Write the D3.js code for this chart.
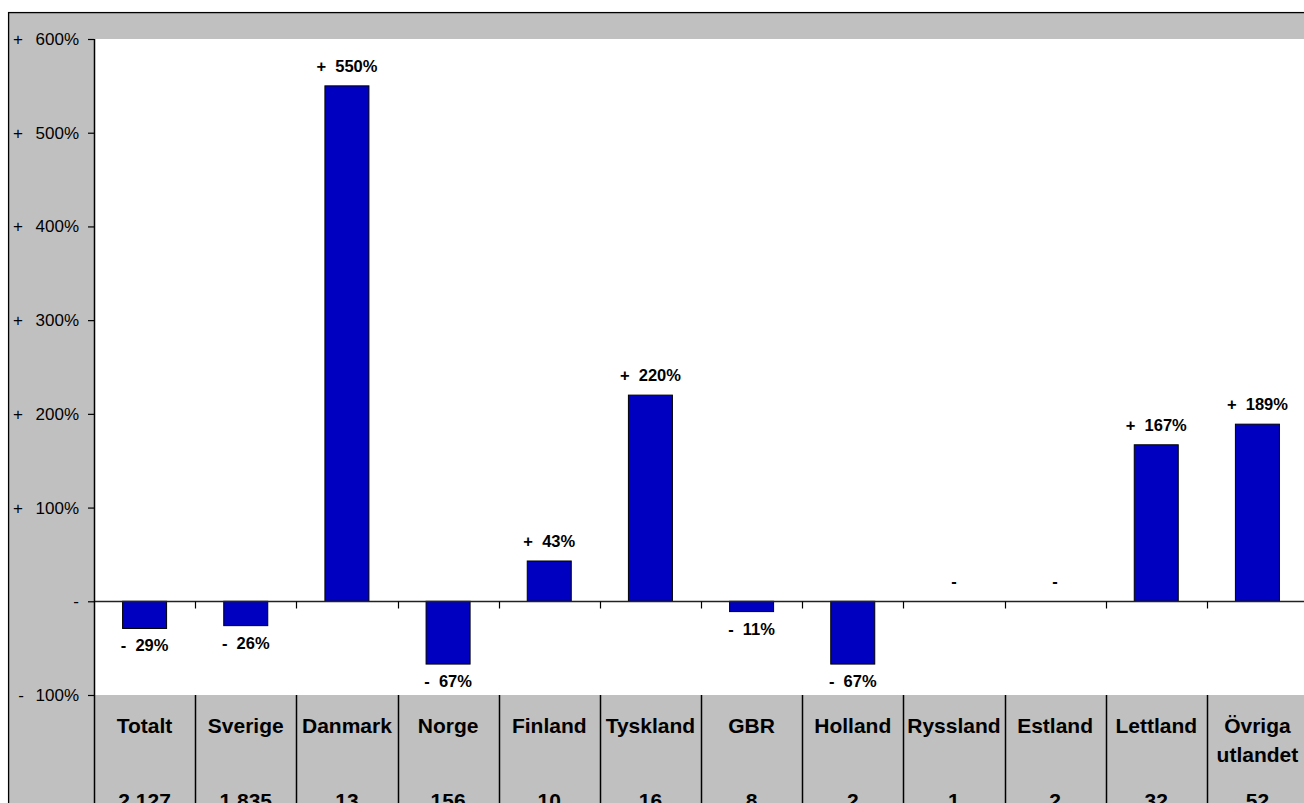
<!DOCTYPE html>
<html><head><meta charset="utf-8">
<script src="https://cdn.jsdelivr.net/npm/d3@7"></script>
<style>
html,body{margin:0;padding:0;background:#fff;}
svg{display:block;font-family:"Liberation Sans",Arial,sans-serif;}
</style></head>
<body>
<svg id="chart" width="1304" height="803"></svg>
<script>
const categories = ["Totalt","Sverige","Danmark","Norge","Finland","Tyskland","GBR","Holland","Ryssland","Estland","Lettland","Övriga utlandet"];
const changePct = [-29,-26,550,-67,43,220,-11,-67,0,0,167,189];
const counts = ["2 127","1 835","13","156","10","16","8","2","1","2","32","52"];
const yTicks = [-100,0,100,200,300,400,500,600];

const svg = d3.select("#chart");
const W = 1304, H = 803;
const frameL = 8.5, frameT = 12.5;
const plotL = 94, plotT = 39, plotB = 695, plotR = 1308;

// gray chart background + frame
svg.append("rect").attr("x",frameL).attr("y",frameT).attr("width",W).attr("height",H)
  .attr("fill","#c0c0c0").attr("stroke","#000").attr("stroke-width",1.5);

const x = d3.scaleBand().domain(categories).range([plotL, plotR]).padding(0);
const y = d3.scaleLinear().domain([-100,600]).range([plotB, plotT]);

// white plot area
svg.append("rect").attr("x",plotL).attr("y",plotT).attr("width",W-plotL+10).attr("height",plotB-plotT).attr("fill","#fff");

// bars
const bw = x.bandwidth(), barW = bw*0.435;
svg.selectAll("rect.bar").data(categories.map((c,i)=>({c,v:changePct[i]}))).join("rect")
  .attr("class","bar")
  .attr("x",d=>x(d.c)+(bw-barW)/2)
  .attr("y",d=>Math.min(y(d.v),y(0)))
  .attr("width",barW)
  .attr("height",d=>Math.abs(y(d.v)-y(0)))
  .attr("fill","#0000c0").attr("stroke","#000").attr("stroke-width",1)
  .style("display",d=>d.v===0?"none":null);

// zero line with category ticks
const zero = Math.round(y(0))+0.5;
svg.append("line").attr("x1",plotL).attr("x2",W).attr("y1",zero).attr("y2",zero).attr("stroke","#222").attr("stroke-width",1.5);
const bounds = categories.map(c=>x(c)).slice(1).concat([x(categories[categories.length-1])+bw]);
svg.selectAll("line.ct").data(bounds).join("line").attr("class","ct")
  .attr("x1",d=>Math.round(d)+0.5).attr("x2",d=>Math.round(d)+0.5)
  .attr("y1",zero).attr("y2",zero+7).attr("stroke","#000").attr("stroke-width",1.2);

// table dividers
svg.selectAll("line.td").data(bounds).join("line").attr("class","td")
  .attr("x1",d=>Math.round(d)+0.5).attr("x2",d=>Math.round(d)+0.5)
  .attr("y1",plotB).attr("y2",H).attr("stroke","#000").attr("stroke-width",1.5);

// y axis
const yAxis = d3.axisLeft(y).tickValues(yTicks).tickSize(6).tickPadding(9)
  .tickFormat(d=> d===0 ? "-" : Math.abs(d)+"%");
const ax = svg.append("g").attr("transform",`translate(${plotL},0)`).call(yAxis);
ax.select(".domain").attr("d",`M0.5,${plotT}V${H}`).attr("stroke","#000").attr("stroke-width",1.5);
ax.selectAll(".tick line").attr("stroke","#000").attr("stroke-width",1.2);
ax.selectAll(".tick text").attr("font-size",17).attr("fill","#000")
  .attr("font-family","'Liberation Sans',Arial,sans-serif");
// signs on left
ax.selectAll(".tick").filter(d=>d!==0).append("text")
  .attr("x",d=> d>0 ? -76 : -73).attr("dy","0.32em").attr("text-anchor","middle")
  .attr("font-size",17).attr("fill","#000")
  .text(d=> d>0 ? "+" : "-");

// value labels
function fmt(v){ return v===0 ? "-" : (v>0?"+  ":"-  ")+Math.abs(v)+"%"; }
svg.selectAll("text.vl").data(categories.map((c,i)=>({c,v:changePct[i]}))).join("text")
  .attr("class","vl")
  .attr("x",d=>x(d.c)+bw/2)
  .attr("y",d=> d.v<0 ? y(d.v)+23 : y(d.v)-14)
  .attr("text-anchor","middle").attr("font-weight","bold").attr("font-size",16.5)
  .style("white-space","pre")
  .text(d=>fmt(d.v));

// table category labels
const tl = svg.selectAll("text.cat").data(categories).join("text").attr("class","cat")
  .attr("text-anchor","middle").attr("font-weight","bold").attr("font-size",21);
tl.each(function(c){
  const words = c==="Övriga utlandet" ? ["Övriga","utlandet"] : [c];
  const t = d3.select(this);
  words.forEach((w,i)=>t.append("tspan").attr("x",x(c)+bw/2).attr("y",733+i*29).text(w));
});
// counts row
svg.selectAll("text.cnt").data(categories.map((c,i)=>({c,n:counts[i]}))).join("text").attr("class","cnt")
  .attr("x",d=>x(d.c)+bw/2).attr("y",808)
  .attr("text-anchor","middle").attr("font-weight","bold").attr("font-size",21)
  .text(d=>d.n);

// white margin outside frame
svg.append("rect").attr("x",0).attr("y",0).attr("width",W).attr("height",11.75).attr("fill","#fff");
svg.append("rect").attr("x",0).attr("y",0).attr("width",7.75).attr("height",H).attr("fill","#fff");
</script>
</body></html>
